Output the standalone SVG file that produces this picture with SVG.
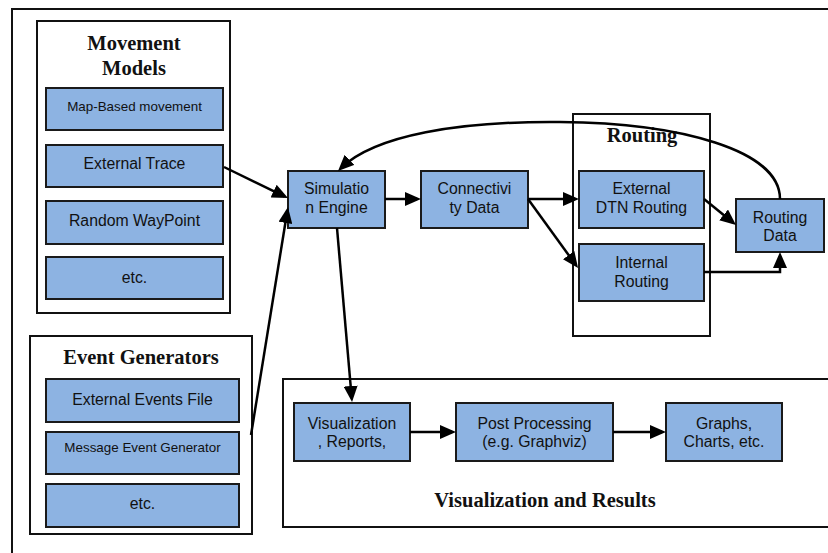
<svg xmlns="http://www.w3.org/2000/svg" width="828" height="553" viewBox="0 0 828 553">
<defs>
<style>
.frame{fill:#fff;stroke:#111;stroke-width:2}
.box{fill:#8DB3E2;stroke:#1a1a1a;stroke-width:2}
.t{font-family:"Liberation Sans",Arial,sans-serif;font-size:15.8px;fill:#111;text-anchor:middle}
.ts{font-size:13.4px}
.title{font-family:"Liberation Serif","Times New Roman",serif;font-weight:bold;font-size:20.5px;fill:#111;text-anchor:middle}
.c{fill:none;stroke:#000;stroke-width:2.5}
</style>
<marker id="ah" viewBox="0 0 16 14" refX="12" refY="7" markerWidth="16" markerHeight="14" markerUnits="userSpaceOnUse" orient="auto">
<path d="M0,0 L16,7 L0,14 z" fill="#000"/>
</marker>
</defs>
<rect width="828" height="553" fill="#fff"/>
<rect class="frame" x="12" y="9" width="830" height="560"/>

<g id="movement-models">
<rect class="frame" x="37" y="21" width="193" height="292"/>
<text class="title" x="134" y="50">Movement</text>
<text class="title" x="134" y="75">Models</text>
</g>
<g id="map-based"><rect class="box" x="46" y="88" width="177" height="42"/><text class="t ts" x="134.5" y="111">Map-Based movement</text></g>
<g id="external-trace"><rect class="box" x="46" y="145" width="177" height="42"/><text class="t" x="134.5" y="168.5">External Trace</text></g>
<g id="random-waypoint"><rect class="box" x="46" y="201" width="177" height="43"/><text class="t" x="134.5" y="225.5">Random WayPoint</text></g>
<g id="mm-etc"><rect class="box" x="46" y="257" width="177" height="42"/><text class="t" x="134.5" y="282.5">etc.</text></g>

<g id="event-generators">
<rect class="frame" x="30" y="336" width="222" height="198"/>
<text class="title" x="141" y="364">Event Generators</text>
</g>
<g id="external-events"><rect class="box" x="46" y="379" width="193" height="43"/><text class="t" x="142.5" y="404.5">External Events File</text></g>
<g id="message-event"><rect class="box" x="46" y="432" width="193" height="42"/><text class="t ts" x="142.5" y="451.5">Message Event Generator</text></g>
<g id="eg-etc"><rect class="box" x="46" y="484" width="193" height="43"/><text class="t" x="142.5" y="508.5">etc.</text></g>

<g id="simulation-engine"><rect class="box" x="288" y="171" width="97" height="57"/><text class="t" x="336.5" y="193.5">Simulatio</text><text class="t" x="336.5" y="212.5">n Engine</text></g>
<g id="connectivity-data"><rect class="box" x="421" y="171" width="107" height="57"/><text class="t" x="474.5" y="193.5">Connectivi</text><text class="t" x="474.5" y="212.5">ty Data</text></g>

<g id="routing">
<rect class="frame" x="573" y="114" width="137" height="222"/>
<text class="title" x="642" y="142">Routing</text>
</g>
<g id="external-dtn"><rect class="box" x="579" y="171" width="125" height="57"/><text class="t" x="641.5" y="193.5">External</text><text class="t" x="641.5" y="212.5">DTN Routing</text></g>
<g id="internal-routing"><rect class="box" x="579" y="244" width="125" height="57"/><text class="t" x="641.5" y="267.5">Internal</text><text class="t" x="641.5" y="286.5">Routing</text></g>
<g id="routing-data"><rect class="box" x="736" y="199" width="88" height="53"/><text class="t" x="780" y="222.5">Routing</text><text class="t" x="780" y="240.5">Data</text></g>

<g id="visualization-results">
<rect class="frame" x="283" y="379" width="560" height="148"/>
<text class="title" x="545" y="507">Visualization and Results</text>
</g>
<g id="visualization"><rect class="box" x="294" y="403" width="116" height="58"/><text class="t" x="352" y="428.5">Visualization</text><text class="t" x="352" y="446.5">, Reports,</text></g>
<g id="post-processing"><rect class="box" x="456" y="403" width="157" height="58"/><text class="t" x="534.5" y="428.5">Post Processing</text><text class="t" x="534.5" y="446.5">(e.g. Graphviz)</text></g>
<g id="graphs"><rect class="box" x="666" y="403" width="116" height="58"/><text class="t" x="724" y="428.5">Graphs,</text><text class="t" x="724" y="446.5">Charts, etc.</text></g>

<g id="connectors">
<path class="c" marker-end="url(#ah)" d="M224,167 L284.4,196.3"/>
<path class="c" marker-end="url(#ah)" d="M251,435 L287.3,211"/>
<path class="c" marker-end="url(#ah)" d="M385,199 L417,199"/>
<path class="c" marker-end="url(#ah)" d="M337,228 L351.7,398"/>
<path class="c" marker-end="url(#ah)" d="M528,199 L575,199"/>
<path class="c" marker-end="url(#ah)" d="M528,199 L575.7,264.8"/>
<path class="c" marker-end="url(#ah)" d="M704,199 L732.9,222.5"/>
<path class="c" marker-end="url(#ah)" d="M704,272 L780,272 L780,256"/>
<path class="c" marker-end="url(#ah)" d="M780,199 C780,150 680,123 560,122 C460,121 375,135 340.9,168.2"/>
<path class="c" marker-end="url(#ah)" d="M410,432 L452,432"/>
<path class="c" marker-end="url(#ah)" d="M613,432 L662,432"/>
</g>
</svg>
